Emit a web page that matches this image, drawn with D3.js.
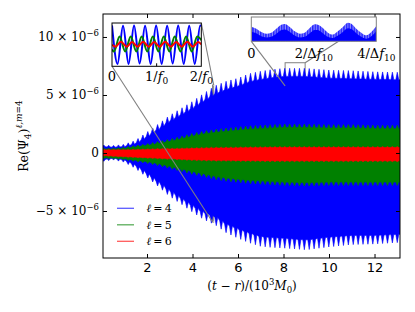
<!DOCTYPE html>
<html>
<head>
<meta charset="utf-8">
<script src="https://cdn.jsdelivr.net/npm/d3@7"></script>
<style>
  body { margin: 0; background: #fff; }
  svg { display: block; }
  .math { font-family: "DejaVu Serif", serif; }
  .sans { font-family: "DejaVu Sans", sans-serif; }
</style>
</head>
<body>
<svg id="chart" width="415" height="312"></svg>
<script>
// ---- data (time in 10^3 M0, amplitude in units of 10^-6) ----
const xDomain = [0.066, 13.12];
const yDomain = [-9.05, 11.98];
const xTicks = [2, 4, 6, 8, 10, 12];
const yTicks = [-5, 0, 5, 10];
const yTickMantissa = ["\u22125", "0", "5", "10"];

const seriesLabels = ["4", "5", "6"];
const seriesColors = ["#0000ff", "#008000", "#ff0000"];

// envelope knots
const knotT = [0, 0.5, 1, 1.5, 2, 2.5, 3, 3.5, 4, 4.5, 5, 5.5, 6, 6.5, 7, 7.5, 8, 9, 10, 11, 12, 13.2];

// l = 4 (blue): spike tips and spike depth, top and bottom
const blueTop = [0.7, 0.65, 0.75, 1.1, 1.8, 2.5, 3.25, 3.85, 4.45, 5.15, 5.8, 6.2, 6.45, 6.85, 7.05, 7.2, 7.3, 7.3, 7.15, 7.1, 7.0, 6.95];
const blueTopDepth = [0.15, 0.15, 0.2, 0.3, 0.4, 0.45, 0.5, 0.55, 0.6, 0.65, 0.7, 0.7, 0.7, 0.7, 0.7, 0.7, 0.7, 0.7, 0.7, 0.7, 0.65, 0.65];
const blueBottom = [-0.75, -0.6, -0.8, -1.35, -2.1, -2.9, -3.75, -4.4, -5.1, -5.75, -6.2, -6.9, -7.35, -7.75, -8.05, -8.15, -8.2, -8.35, -8.1, -7.9, -7.85, -7.7];
const blueBottomDepth = [0.15, 0.15, 0.2, 0.3, 0.35, 0.4, 0.5, 0.5, 0.55, 0.6, 0.7, 0.75, 0.8, 0.85, 0.85, 0.85, 0.85, 0.85, 0.85, 0.8, 0.75, 0.7];

// l = 5 (green)
const greenTop = [0.42, 0.42, 0.5, 0.65, 0.8, 1.0, 1.2, 1.45, 1.7, 1.9, 2.05, 2.15, 2.25, 2.35, 2.4, 2.45, 2.5, 2.5, 2.45, 2.45, 2.4, 2.4];
const greenTopDepth = [0.08, 0.08, 0.1, 0.12, 0.15, 0.18, 0.2, 0.22, 0.25, 0.25, 0.28, 0.28, 0.3, 0.3, 0.3, 0.3, 0.3, 0.3, 0.3, 0.3, 0.3, 0.3];
const greenBottom = [-0.5, -0.5, -0.6, -0.75, -0.9, -1.1, -1.35, -1.6, -1.85, -2.05, -2.3, -2.45, -2.55, -2.65, -2.7, -2.75, -2.8, -2.85, -2.8, -2.8, -2.8, -2.8];
const greenBottomDepth = [0.08, 0.08, 0.1, 0.12, 0.15, 0.18, 0.2, 0.22, 0.25, 0.25, 0.28, 0.28, 0.3, 0.3, 0.3, 0.3, 0.3, 0.3, 0.3, 0.3, 0.3, 0.3];

// l = 6 (red)
const redTop = [0.3, 0.3, 0.3, 0.32, 0.35, 0.38, 0.4, 0.43, 0.45, 0.48, 0.5, 0.51, 0.52, 0.53, 0.54, 0.55, 0.55, 0.55, 0.55, 0.55, 0.55, 0.55];
const redBottom = [-0.25, -0.3, -0.35, -0.4, -0.45, -0.5, -0.55, -0.6, -0.65, -0.68, -0.7, -0.71, -0.72, -0.73, -0.74, -0.75, -0.75, -0.75, -0.75, -0.75, -0.75, -0.75];
const redDepth = [0.04, 0.04, 0.04, 0.05, 0.05, 0.06, 0.06, 0.07, 0.07, 0.08, 0.08, 0.08, 0.08, 0.08, 0.08, 0.08, 0.08, 0.08, 0.08, 0.08, 0.08, 0.08];

const beatPeriod = 0.215;   // 1/Delta f10
const spikePhase = 0.1;
const tStart = 0.07;

// inset 1: two periods 2/f0 around t = 4.9
const inset1Window = [4.88, 4.93];
const inset1YRange = [-5.95, 5.86];
const in1BluePhase = [0, 0.124, 0.247, 0.371, 0.494, 0.618, 0.741, 0.865, 0.988, 1.112, 1.235, 1.359, 1.482, 1.606, 1.729, 1.853, 1.976, 2.0];
const in1BlueVal = [5.2, -5.3, 5.1, -5.3, 5.2, -5.2, 5.1, -5.3, 5.2, -5.3, 5.1, -5.2, 5.2, -5.3, 5.1, -5.3, 5.2, 5.0];
const in1GreenPhase = [0, 0.045, 0.17, 0.295, 0.42, 0.545, 0.665, 0.79, 0.915, 1.04, 1.16, 1.285, 1.405, 1.535, 1.66, 1.785, 1.91, 2.0];
const in1GreenVal = [-1.4, -1.9, 2.2, -1.9, 2.2, -1.9, 2.2, -1.9, 2.2, -1.9, 2.2, -1.9, 2.2, -1.9, 2.2, -1.9, 2.2, 1.2];
const in1RedPhase = [0, 0.08, 0.2, 0.327, 0.45, 0.574, 0.697, 0.821, 0.944, 1.068, 1.191, 1.315, 1.438, 1.562, 1.685, 1.809, 1.932, 2.0];
const in1RedVal = [-0.1, -0.6, 0.75, -0.6, 0.7, -0.6, 0.75, -0.6, 0.7, -0.6, 0.75, -0.6, 0.7, -0.6, 0.75, -0.6, 0.7, 0.0];

// inset 2: four beat periods 4/Delta f10 starting at t = 8.07
const inset2Window = [8.07, 8.95];
const inset2YRange = [5.78, 7.78];
const in2Phase = [0.02, 0.16, 0.32, 0.48, 0.64, 0.8, 0.96, 1.07, 1.23, 1.39, 1.55, 1.71, 1.87, 2.03, 2.13, 2.29, 2.45, 2.61, 2.77, 2.93, 3.09, 3.2, 3.36, 3.52, 3.68, 3.84, 4.0];
const in2Tips = [6.96, 6.82, 6.55, 6.41, 6.49, 6.82, 7.15, 7.2, 6.96, 6.6, 6.41, 6.49, 6.87, 7.18, 7.15, 6.87, 6.49, 6.33, 6.6, 6.96, 7.31, 7.23, 6.82, 6.49, 6.27, 6.55, 7.04];
const in2Core = [6.55, 6.45, 6.2, 6.1, 6.15, 6.4, 6.7, 6.75, 6.55, 6.25, 6.1, 6.15, 6.45, 6.72, 6.7, 6.45, 6.15, 6.05, 6.25, 6.55, 6.85, 6.8, 6.45, 6.15, 6.0, 6.2, 6.6];

// ---- layout ----
const svg = d3.select("#chart");
const plot = { left: 103, right: 400, top: 14, bottom: 258 };
const x = d3.scaleLinear().domain(xDomain).range([plot.left, plot.right]);
const y = d3.scaleLinear().domain(yDomain).range([plot.bottom, plot.top]);

const defs = svg.append("defs");
defs.append("clipPath").attr("id", "plot-clip")
  .append("rect")
  .attr("x", plot.left).attr("y", plot.top)
  .attr("width", plot.right - plot.left).attr("height", plot.bottom - plot.top);

// vertical striation for the unresolved oscillation in inset 2
const stripes = defs.append("pattern").attr("id", "stripes")
  .attr("patternUnits", "userSpaceOnUse").attr("width", 2.6).attr("height", 10);
stripes.append("rect").attr("width", 2.6).attr("height", 10).attr("fill", "#8c8cff");
stripes.append("rect").attr("width", 1.5).attr("height", 10).attr("fill", "#2424ff");

// spiky envelope edge: a spike every beat period
function edgePoints(tips, depth, sign) {
  const tipAt = d3.scaleLinear().domain(knotT).range(tips).clamp(true);
  const depthAt = d3.scaleLinear().domain(knotT).range(depth).clamp(true);
  const w = beatPeriod * 0.3;
  const pts = [[tStart, tipAt(tStart) - sign * depthAt(tStart)]];
  for (let tk = spikePhase; tk < xDomain[1] + beatPeriod; tk += beatPeriod) {
    const base = tipAt(tk) - sign * depthAt(tk);
    pts.push([tk - w, base], [tk, tipAt(tk)], [tk + w, base]);
  }
  return pts;
}

const bands = [
  { top: blueTop, topDepth: blueTopDepth, bottom: blueBottom, bottomDepth: blueBottomDepth },
  { top: greenTop, topDepth: greenTopDepth, bottom: greenBottom, bottomDepth: greenBottomDepth },
  { top: redTop, topDepth: redDepth, bottom: redBottom, bottomDepth: redDepth }
];

const line = d3.line().x(d => x(d[0])).y(d => y(d[1]));

// zoom rectangles sit under the data
function zoomRect(win, yr) {
  svg.append("rect")
    .attr("x", x(win[0])).attr("y", y(yr[1]))
    .attr("width", Math.max(1, x(win[1]) - x(win[0])))
    .attr("height", y(yr[0]) - y(yr[1]))
    .attr("fill", "none").attr("stroke", "#808080").attr("stroke-width", 1);
}
zoomRect(inset1Window, inset1YRange);
zoomRect(inset2Window, inset2YRange);

const dataG = svg.append("g").attr("clip-path", "url(#plot-clip)");
bands.forEach((b, i) => {
  const top = edgePoints(b.top, b.topDepth, 1);
  const bottom = edgePoints(b.bottom, b.bottomDepth, -1).reverse();
  dataG.append("path")
    .attr("d", line(top.concat(bottom)) + "Z")
    .attr("fill", seriesColors[i])
    .attr("stroke", seriesColors[i])
    .attr("stroke-width", 0.6);
});

// ---- axes (inward ticks on all sides) ----
const tickLen = 4;
svg.append("g").attr("transform", `translate(0,${plot.bottom})`)
  .call(d3.axisBottom(x).tickValues(xTicks).tickSizeInner(-tickLen).tickSizeOuter(0).tickPadding(5).tickFormat(d3.format("d")))
  .call(g => g.select(".domain").remove())
  .call(g => g.selectAll("text").attr("class", "sans").attr("font-size", 13).attr("fill", "#000"));
svg.append("g").attr("transform", `translate(0,${plot.top})`)
  .call(d3.axisTop(x).tickValues(xTicks).tickSizeInner(-tickLen).tickSizeOuter(0).tickFormat(""))
  .call(g => g.select(".domain").remove());
svg.append("g").attr("transform", `translate(${plot.left},0)`)
  .call(d3.axisLeft(y).tickValues(yTicks).tickSizeInner(-tickLen).tickSizeOuter(0).tickFormat(""))
  .call(g => g.select(".domain").remove());
svg.append("g").attr("transform", `translate(${plot.right},0)`)
  .call(d3.axisRight(y).tickValues(yTicks).tickSizeInner(-tickLen).tickSizeOuter(0).tickFormat(""))
  .call(g => g.select(".domain").remove());

svg.append("rect")
  .attr("x", plot.left).attr("y", plot.top)
  .attr("width", plot.right - plot.left).attr("height", plot.bottom - plot.top)
  .attr("fill", "none").attr("stroke", "#000").attr("stroke-width", 1);

// y tick labels: "m x 10^-6"
yTicks.forEach((v, i) => {
  const t = svg.append("text").attr("class", "math")
    .attr("x", 99).attr("y", y(v)).attr("dy", "0.35em")
    .attr("text-anchor", "end").attr("font-size", 12);
  if (v === 0) { t.text("0"); return; }
  t.append("tspan").text(yTickMantissa[i] + " \u00d7 10");
  t.append("tspan").attr("dy", -5).attr("font-size", 8.5).text("\u22126");
});

// axis labels
const xl = svg.append("text").attr("class", "math")
  .attr("x", 252).attr("y", 290)
  .attr("text-anchor", "middle").attr("font-size", 12);
xl.append("tspan").text("(");
xl.append("tspan").attr("font-style", "italic").text("t");
xl.append("tspan").text(" \u2212 ");
xl.append("tspan").attr("font-style", "italic").text("r");
xl.append("tspan").text(")/(10");
xl.append("tspan").attr("dy", -5).attr("font-size", 8.5).text("3");
xl.append("tspan").attr("dy", 5).attr("font-style", "italic").text("M");
xl.append("tspan").attr("dy", 3).attr("font-size", 8.5).text("0");
xl.append("tspan").attr("dy", -3).text(")");

const yl = svg.append("text").attr("class", "math")
  .attr("transform", `translate(28,${(plot.top + plot.bottom) / 2}) rotate(-90)`)
  .attr("text-anchor", "middle").attr("font-size", 12.5);
yl.append("tspan").text("Re(\u03a8");
yl.append("tspan").attr("dy", 3).attr("font-size", 9).text("4");
yl.append("tspan").attr("dy", -3).text(")");
yl.append("tspan").attr("dy", -6).attr("font-size", 9).attr("font-style", "italic").text("\u2113,m");
yl.append("tspan").attr("font-size", 9).text("=4");

// legend
const legend = svg.append("g");
seriesLabels.forEach((lab, i) => {
  const ly = 208.3 + i * 16.5;
  legend.append("line")
    .attr("x1", 117).attr("x2", 134).attr("y1", ly).attr("y2", ly)
    .attr("stroke", seriesColors[i]).attr("stroke-width", 1.3).attr("stroke-opacity", 0.65);
  const t = legend.append("text").attr("class", "math")
    .attr("x", 146.5).attr("y", ly).attr("dy", "0.35em").attr("font-size", 11);
  t.append("tspan").attr("font-style", "italic").text("\u2113");
  t.append("tspan").text("\u2009=\u2009" + lab);
});

// ---- insets ----
const in1 = { left: 112, right: 201.3, top: 23, bottom: 66.3 };
const in2 = { left: 251.3, right: 376.3, top: 17, bottom: 41.3 };

// connectors drawn over the data
function connector(x1, y1, x2, y2) {
  svg.append("line").attr("x1", x1).attr("y1", y1).attr("x2", x2).attr("y2", y2)
    .attr("stroke", "#808080").attr("stroke-width", 1.1);
}
connector(in1.left, in1.bottom, x(inset1Window[0]), y(inset1YRange[0]));
connector(in1.right, in1.top, x(inset1Window[1]), y(inset1YRange[1]));
connector(in2.left, in2.bottom, x(inset2Window[0]), y(inset2YRange[0]));
connector(in2.right, in2.top, x(inset2Window[1]), y(inset2YRange[1]));

[["in1-clip", in1], ["in2-clip", in2]].forEach(([id, b]) => {
  defs.append("clipPath").attr("id", id).append("rect")
    .attr("x", b.left).attr("y", b.top).attr("width", b.right - b.left).attr("height", b.bottom - b.top);
});

// inset 1
const x1s = d3.scaleLinear().domain([0, 2]).range([in1.left, in1.right]);
const y1s = d3.scaleLinear().domain(inset1YRange).range([in1.bottom, in1.top]);
svg.append("rect").attr("x", in1.left).attr("y", in1.top)
  .attr("width", in1.right - in1.left).attr("height", in1.bottom - in1.top).attr("fill", "#fff");
const g1 = svg.append("g").attr("clip-path", "url(#in1-clip)");
const in1Line = d3.line().curve(d3.curveMonotoneX).x(d => x1s(d[0])).y(d => y1s(d[1]));
[[in1BluePhase, in1BlueVal], [in1GreenPhase, in1GreenVal], [in1RedPhase, in1RedVal]].forEach(([ph, v], i) => {
  g1.append("path").attr("d", in1Line(d3.zip(ph, v)))
    .attr("fill", "none").attr("stroke", seriesColors[i]).attr("stroke-width", 2);
});
svg.append("rect").attr("x", in1.left).attr("y", in1.top)
  .attr("width", in1.right - in1.left).attr("height", in1.bottom - in1.top)
  .attr("fill", "none").attr("stroke", "#000").attr("stroke-width", 1);
svg.append("line").attr("x1", x1s(1)).attr("x2", x1s(1)).attr("y1", in1.bottom).attr("y2", in1.bottom - 3)
  .attr("stroke", "#000");

function fracLabel(px, py, num, sym, sub) {
  const t = svg.append("text").attr("class", "math")
    .attr("x", px).attr("y", py).attr("text-anchor", "middle").attr("font-size", 13);
  if (!sym) { t.text(num); return; }
  t.append("tspan").text(num + "/" + sym[0]);
  t.append("tspan").attr("font-style", "italic").text(sym[1]);
  t.append("tspan").attr("dy", 3).attr("font-size", 9).text(sub);
}
fracLabel(x1s(0), 81, "0");
fracLabel(x1s(1), 81, "1", ["", "f"], "0");
fracLabel(x1s(2), 81, "2", ["", "f"], "0");

// inset 2
const x2s = d3.scaleLinear().domain([0, 4]).range([in2.left, in2.right]);
const y2s = d3.scaleLinear().domain(inset2YRange).range([in2.bottom, in2.top]);
svg.append("rect").attr("x", in2.left).attr("y", in2.top)
  .attr("width", in2.right - in2.left).attr("height", in2.bottom - in2.top).attr("fill", "#fff");
const g2 = svg.append("g").attr("clip-path", "url(#in2-clip)");
const in2Area = d3.area().curve(d3.curveMonotoneX).x(d => x2s(d[0])).y0(in2.bottom + 1).y1(d => y2s(d[1]));
g2.append("path").attr("d", in2Area(d3.zip(in2Phase, in2Tips))).attr("fill", "url(#stripes)");
g2.append("path").attr("d", in2Area(d3.zip(in2Phase, in2Core))).attr("fill", "#0000ff");
svg.append("rect").attr("x", in2.left).attr("y", in2.top)
  .attr("width", in2.right - in2.left).attr("height", in2.bottom - in2.top)
  .attr("fill", "none").attr("stroke", "#808080").attr("stroke-width", 1);

fracLabel(x2s(0), 57.5, "0");
fracLabel(x2s(2), 57.5, "2", ["\u0394", "f"], "10");
fracLabel(x2s(4), 57.5, "4", ["\u0394", "f"], "10");
</script>
</body>
</html>
